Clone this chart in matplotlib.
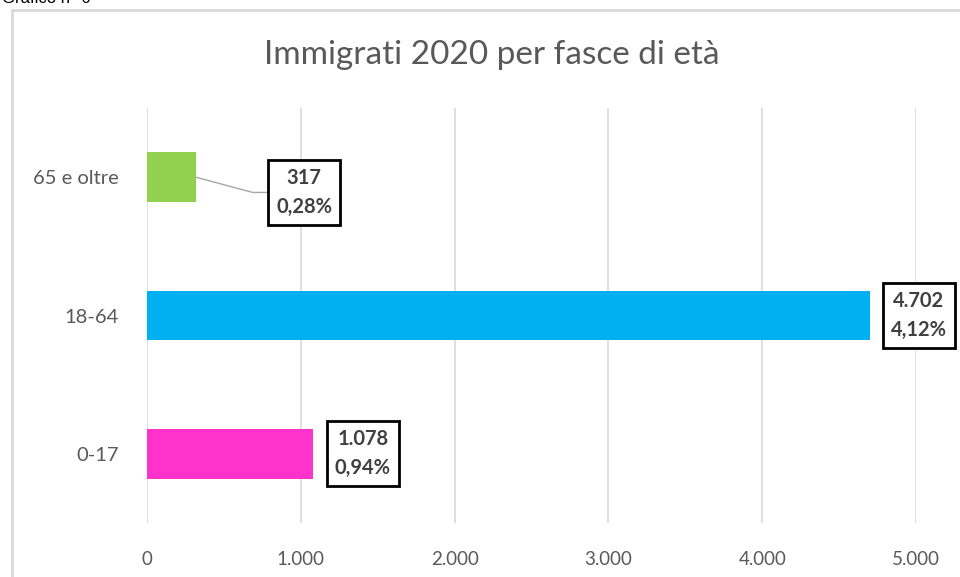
import matplotlib
matplotlib.use("Agg")
import matplotlib.pyplot as plt
from matplotlib.patches import Rectangle
from matplotlib.ticker import FuncFormatter

# dati
categorie = ["0-17", "18-64", "65 e oltre"]
valori = [1078, 4702, 317]
percentuali = ["0,94%", "4,12%", "0,28%"]
colori = ["#FF33CC", "#00B0F0", "#92D050"]
xticks = [0, 1000, 2000, 3000, 4000, 5000]

plt.rcParams["font.family"] = ["Lato", "DejaVu Sans"]
GRIGIO = "#595959"

fig = plt.figure(figsize=(9.6, 5.77), dpi=100)
ax = fig.add_axes([0.1531, 0.0936, 0.8011, 0.7192])

y = range(len(categorie))
ax.barh(y, valori, height=0.36, color=colori, zorder=3)
ax.set_xlim(0, 5000)
ax.set_ylim(-0.5, 2.5)
ax.set_yticks(list(y))
ax.set_yticklabels(categorie)
ax.set_xticks(xticks)
ax.xaxis.set_major_formatter(FuncFormatter(lambda v, p: f"{int(v):,}".replace(",", ".")))
ax.tick_params(length=0, labelcolor=GRIGIO)
ax.tick_params(axis="x", pad=20, labelsize=13.5)
ax.tick_params(axis="y", pad=20, labelsize=14.5)
ax.grid(axis="x", color="#D9D9D9", lw=1.2, zorder=0)
for s in ax.spines.values():
    s.set_visible(False)

# etichette: offset in punti rispetto alla fine della barra
offset = [(36, 0), (35, 0), (78, -11)]
box = dict(boxstyle="square,pad=0.4", fc="white", ec="black", lw=2)
for i, (v, p) in enumerate(zip(valori, percentuali)):
    txt = f"{v:,}".replace(",", ".") + "\n" + p
    kw = {}
    if v < 500:
        kw["arrowprops"] = dict(arrowstyle="-", color="#A6A6A6", lw=1,
                                shrinkA=0, shrinkB=0, relpos=(0, 0.5),
                                connectionstyle="angle,angleA=0,angleB=-15,rad=0")
    ax.annotate(txt, xy=(v, i), xytext=offset[i], textcoords="offset points",
                ha="center", va="center", fontsize=14.5, fontweight="bold",
                color="#404040", linespacing=1.55, bbox=box, zorder=5, **kw)

fig.text(0.5125, 1 - 55 / 577, "Immigrati 2020 per fasce di età", ha="center",
         va="center", fontsize=24, color=GRIGIO)

# cornice del grafico
fig.patches.append(Rectangle((12 / 960, -0.1), 1.2, 1 - 10 / 577 + 0.1,
                             transform=fig.transFigure, fill=False,
                             ec="#D9D9D9", lw=2))
fig.text(2 / 960, 1 - 3 / 577, "Grafico n° 6", ha="left", va="baseline",
         fontsize=12, family="Liberation Sans", color="black")

fig.savefig("out.png", dpi=100)
